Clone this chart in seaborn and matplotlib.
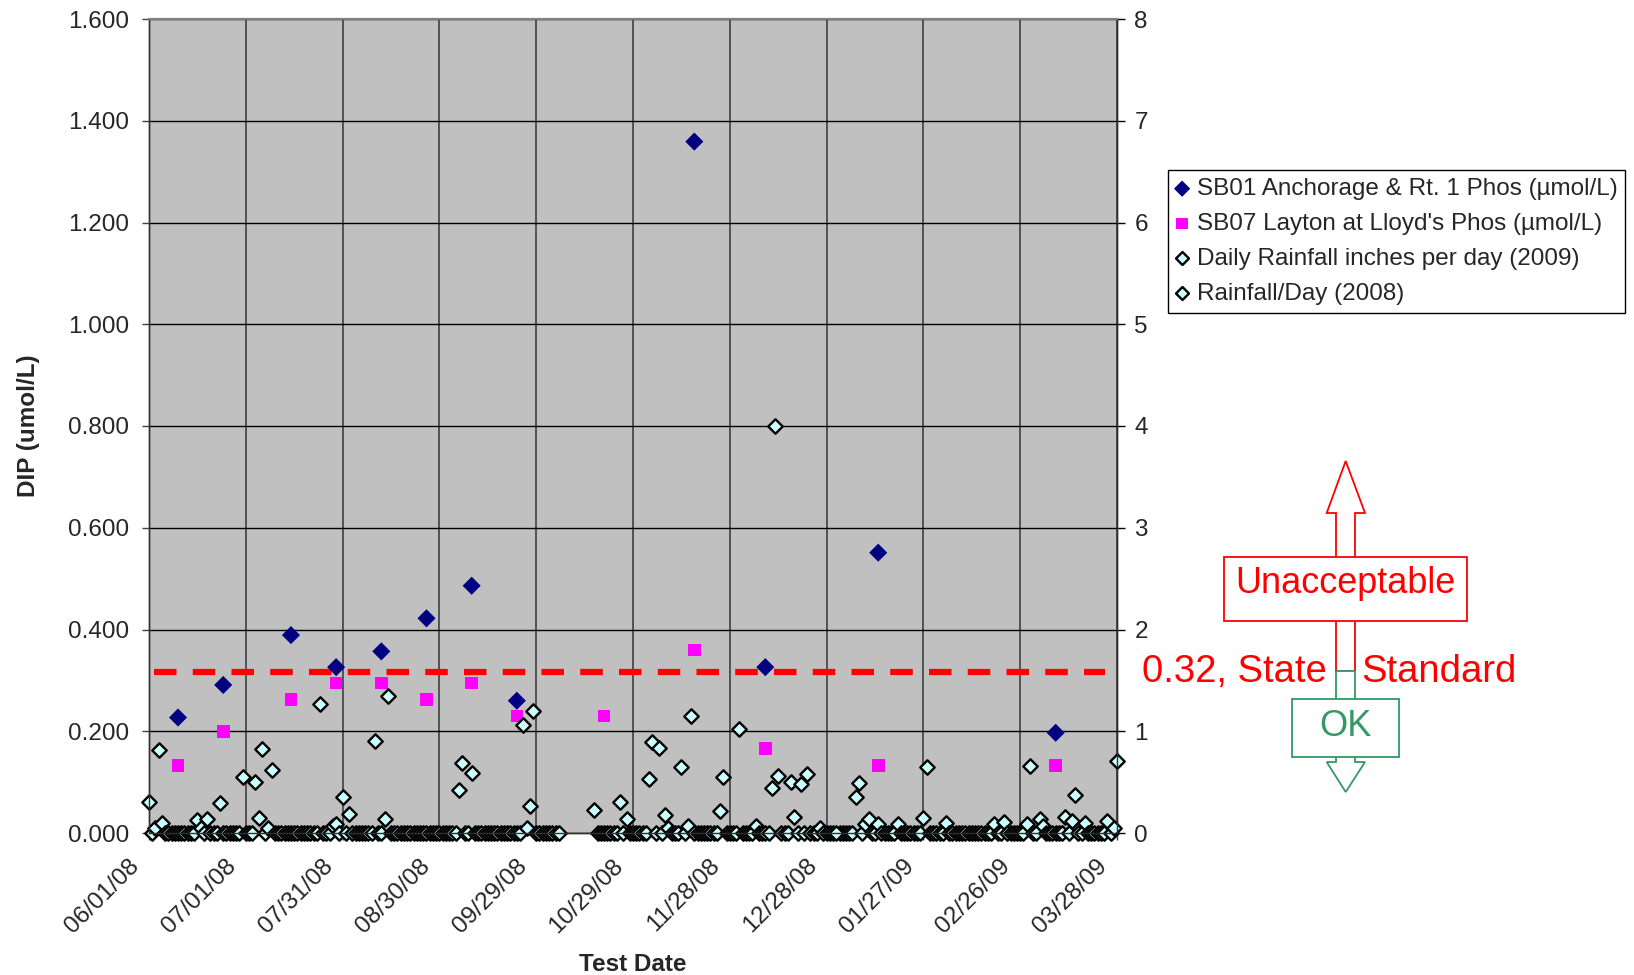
import pandas as pd
import matplotlib
matplotlib.use("Agg")
import matplotlib.pyplot as plt
import matplotlib.transforms as mtransforms
from matplotlib.patches import Polygon, Rectangle
import seaborn as sns

# --- data ---
fmt = "%m/%d/%y"

sb01_dates = ["06/10/08", "06/24/08", "07/15/08", "07/29/08", "08/12/08", "08/26/08",
              "09/09/08", "09/23/08", "11/17/08", "12/09/08", "01/13/09", "03/09/09"]
sb01_phos = [0.227, 0.291, 0.389, 0.326, 0.357, 0.422,
             0.486, 0.260, 1.359, 0.326, 0.551, 0.197]

sb07_dates = ["06/10/08", "06/24/08", "07/15/08", "07/29/08", "08/12/08", "08/26/08",
              "09/09/08", "09/23/08", "10/20/08", "11/17/08", "12/09/08", "01/13/09", "03/09/09"]
sb07_phos = [0.133, 0.199, 0.262, 0.295, 0.295, 0.262,
             0.295, 0.230, 0.230, 0.360, 0.166, 0.133, 0.133]

# days with measurable rain (inches)
rain_dates = ["06/01/08", "06/03/08", "06/04/08", "06/05/08", "06/16/08", "06/17/08",
              "06/19/08", "06/23/08", "06/30/08", "07/04/08", "07/05/08", "07/06/08",
              "07/08/08", "07/09/08", "07/24/08", "07/28/08", "07/29/08", "07/31/08",
              "08/02/08", "08/10/08", "08/13/08", "08/14/08", "09/05/08", "09/06/08",
              "09/09/08", "09/25/08", "09/26/08", "09/27/08", "09/28/08", "10/17/08",
              "10/25/08", "10/27/08", "11/03/08", "11/04/08", "11/06/08", "11/08/08",
              "11/09/08", "11/13/08", "11/15/08", "11/16/08", "11/25/08", "11/26/08",
              "12/01/08", "12/06/08", "12/11/08", "12/12/08", "12/13/08", "12/17/08",
              "12/18/08", "12/20/08", "12/22/08", "12/26/08",
              "01/06/09", "01/07/09", "01/09/09", "01/10/09", "01/13/09", "01/19/09",
              "01/27/09", "01/28/09", "02/03/09", "02/18/09", "02/21/09", "02/28/09",
              "03/01/09", "03/04/09", "03/05/09", "03/12/09", "03/14/09", "03/15/09",
              "03/18/09", "03/25/09", "03/27/09", "03/28/09"]
rain_inches = [0.30, 0.05, 0.82, 0.10, 0.125, 0.05,
               0.135, 0.29, 0.55, 0.50, 0.145, 0.83,
               0.05, 0.62, 1.27, 0.07, 0.085, 0.355,
               0.19, 0.905, 0.135, 1.35, 0.425, 0.69,
               0.585, 1.06, 0.05, 0.265, 1.20, 0.225,
               0.305, 0.135, 0.53, 0.89, 0.84, 0.18,
               0.05, 0.65, 0.07, 1.15, 0.215, 0.555,
               1.02, 0.07, 0.445, 4.00, 0.56, 0.505,
               0.16, 0.48, 0.575, 0.05,
               0.355, 0.495, 0.09, 0.135, 0.085, 0.085,
               0.15, 0.645, 0.10, 0.085, 0.11, 0.09,
               0.66, 0.135, 0.07, 0.155, 0.12, 0.37,
               0.10, 0.12, 0.05, 0.71]

# periods with daily readings (dry days read as 0)
rain_zero_spans = [("06/01/08", "10/06/08"), ("10/17/08", "03/28/09")]

x_tick_labels = ["06/01/08", "07/01/08", "07/31/08", "08/30/08", "09/29/08", "10/29/08",
                 "11/28/08", "12/28/08", "01/27/09", "02/26/09", "03/28/09"]
left_ticks = [0.0, 0.2, 0.4, 0.6, 0.8, 1.0, 1.2, 1.4, 1.6]
right_ticks = [0, 1, 2, 3, 4, 5, 6, 7, 8]
state_standard = 0.316  # dashed line as drawn (labelled 0.32)

# --- frames ---
sb01 = pd.DataFrame({"date": pd.to_datetime(sb01_dates, format=fmt), "phos": sb01_phos})
sb07 = pd.DataFrame({"date": pd.to_datetime(sb07_dates, format=fmt), "phos": sb07_phos})

days = pd.DatetimeIndex([])
for start, end in rain_zero_spans:
    days = days.append(pd.date_range(pd.to_datetime(start, format=fmt),
                                     pd.to_datetime(end, format=fmt)))
wet = pd.Series(rain_inches, index=pd.to_datetime(rain_dates, format=fmt))
rain = pd.Series(0.0, index=days).drop(wet.index, errors="ignore")
rain = pd.concat([rain, wet]).sort_index().rename_axis("date").reset_index(name="inches")
rain08 = rain[rain["date"].dt.year == 2008]
rain09 = rain[rain["date"].dt.year == 2009]

sns.set_style("ticks")
plt.rcParams["font.family"] = ["Liberation Sans", "DejaVu Sans"]

W, H = 1634, 975
fig = plt.figure(figsize=(W / 100, H / 100), dpi=100)
ax = fig.add_axes([149 / W, 1 - 833 / H, 968 / W, 814 / H])
ax2 = ax.twinx()

sns.scatterplot(data=sb01, x="date", y="phos", marker="D", s=85, color="#000080",
                edgecolor="none", linewidth=0, ax=ax, zorder=3,
                label="SB01 Anchorage & Rt. 1 Phos (µmol/L)")
sns.scatterplot(data=sb07, x="date", y="phos", marker="s", s=82, color="#FF00FF",
                edgecolor="none", linewidth=0, ax=ax, zorder=3,
                label="SB07 Layton at Lloyd's Phos (µmol/L)")
ax.axhline(state_standard, xmin=0.005, xmax=0.988, color="#FF0000", lw=4.5,
           linestyle=(0, (3.6, 2.6)), dash_capstyle="butt", zorder=2)

sns.scatterplot(data=rain09, x="date", y="inches", marker="D", s=54, color="#CCFFFF",
                edgecolor="black", linewidth=1.7, ax=ax2, clip_on=False,
                label="Daily Rainfall inches per day (2009)")
sns.scatterplot(data=rain08, x="date", y="inches", marker="D", s=54, color="#CCFFFF",
                edgecolor="black", linewidth=1.7, ax=ax2, clip_on=False,
                label="Rainfall/Day (2008)")

for a in (ax, ax2):
    if a.get_legend() is not None:
        a.get_legend().remove()

xt = pd.to_datetime(x_tick_labels, format=fmt)
ax.set_xlim(xt[0], xt[-1])
ax.set_ylim(0, 1.6)
ax2.set_ylim(0, 8)

ax.set_facecolor("#C0C0C0")
ax.set_axisbelow(True)
ax.grid(True, axis="y", color="black", lw=1)
ax.grid(True, axis="x", color="#404040", lw=1.2)
ax2.grid(False)

ax.set_xticks(xt)
ax.set_xticklabels(x_tick_labels, rotation=45, ha="right", va="center",
                   rotation_mode="anchor", fontsize=17.5)
ax.set_yticks(left_ticks)
ax.set_yticklabels([f"{v:.3f}" for v in left_ticks], fontsize=17.5)
ax2.set_yticks(right_ticks)
ax2.set_yticklabels([str(v) for v in right_ticks], fontsize=17.5)

ax.tick_params(axis="x", length=5, width=1, pad=14, color="#404040")
ax.tick_params(axis="y", length=5, width=1, pad=9.5, color="#404040")
ax2.tick_params(axis="y", length=6, width=1, pad=6.5, color="black")

shift = mtransforms.ScaledTranslation(-0.13, -0.03, fig.dpi_scale_trans)
for lab in ax.get_xticklabels():
    lab.set_transform(lab.get_transform() + shift)

for a in (ax, ax2):
    for side in ("left", "bottom", "right"):
        a.spines[side].set_color("#303030")
        a.spines[side].set_linewidth(1)
    a.spines["top"].set_color("#808080")
    a.spines["top"].set_linewidth(1.5)

ax.set_xlabel("Test Date", fontsize=17.5, fontweight="bold")
ax.xaxis.set_label_coords(0.5, -0.147)
ax.set_ylabel("DIP (umol/L)", fontsize=17.5, fontweight="bold")
ax.yaxis.set_label_coords(-0.113, 0.5)
ax2.set_ylabel("")

h1, l1 = ax.get_legend_handles_labels()
h2, l2 = ax2.get_legend_handles_labels()
leg = fig.legend(h1 + h2, l1 + l2, loc="upper left",
                 bbox_to_anchor=(1168 / W, 1 - 170 / H), fontsize=17.5,
                 frameon=True, fancybox=False, edgecolor="black", framealpha=1,
                 borderpad=0.33, labelspacing=0.53, handlelength=0.5,
                 handletextpad=0.35, borderaxespad=0, markerscale=0.9)
leg.get_frame().set_linewidth(1)


# --- standard annotation (figure pixel coords) ---
def px(x, y):
    return (x / W, 1 - y / H)


red, green = "#FF0000", "#339966"
up = [(1336, 671), (1336, 513), (1326.7, 513), (1345.7, 461), (1365, 513), (1355, 513), (1355, 671)]
down = [(1336, 671), (1355, 671), (1355, 762), (1365, 762), (1345.7, 792), (1326.7, 762), (1336, 762)]
fig.add_artist(Polygon([px(*p) for p in up], closed=True, facecolor="white",
                       edgecolor=red, lw=1.3, transform=fig.transFigure))
fig.add_artist(Polygon([px(*p) for p in down], closed=True, facecolor="white",
                       edgecolor=green, lw=1.3, transform=fig.transFigure))
fig.add_artist(Rectangle(px(1224.3, 620.7), 243 / W, 63.4 / H, facecolor="white",
                         edgecolor=red, lw=1.3, transform=fig.transFigure))
fig.add_artist(Rectangle(px(1292.3, 757.3), 106.7 / W, 58 / H, facecolor="white",
                         edgecolor=green, lw=1.3, transform=fig.transFigure))

fig.text(*px(1345.8, 592.7), "Unacceptable", color=red, fontsize=26, ha="center", va="baseline")
fig.text(*px(1345.7, 736), "OK", color=green, fontsize=26, ha="center", va="baseline")
fig.text(*px(1326.7, 681.7), "0.32, State", color=red, fontsize=27.5, ha="right", va="baseline")
fig.text(*px(1361.7, 681.7), "Standard", color=red, fontsize=27.5, ha="left", va="baseline")

fig.savefig("out.png", dpi=100)
